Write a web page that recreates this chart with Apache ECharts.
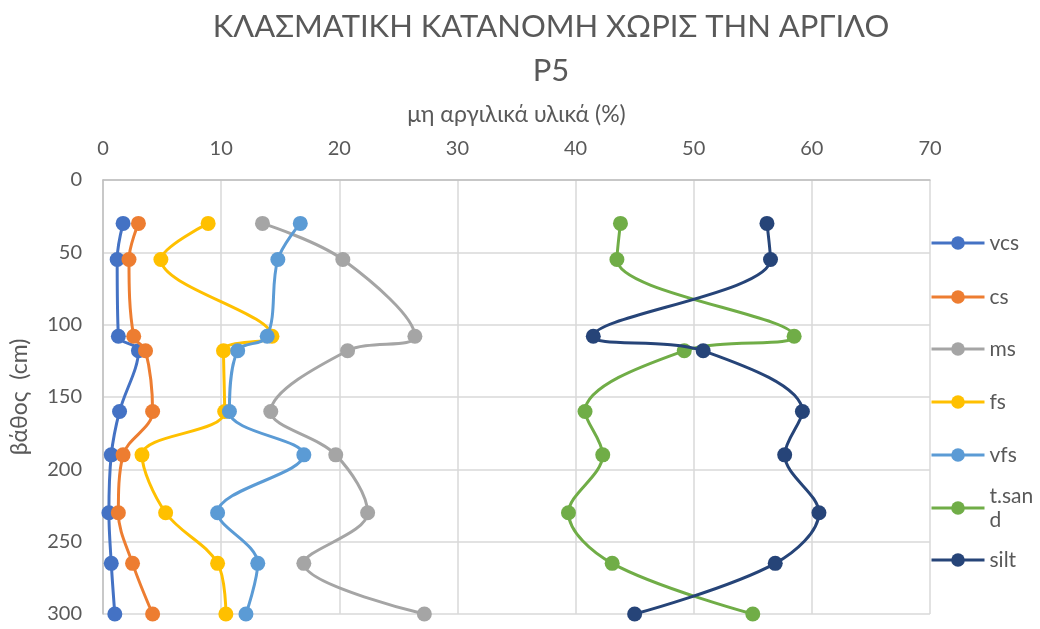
<!DOCTYPE html>
<html>
<head>
<meta charset="utf-8">
<script src="https://cdn.jsdelivr.net/npm/echarts@6/dist/echarts.min.js"></script>
<style>
  html, body { margin: 0; padding: 0; background: #ffffff; }
  #chart { width: 1040px; height: 629px; }
</style>
</head>
<body>
<div id="chart"></div>
<script>
// Sampling depths (cm)
const depths = [30, 55, 108, 118, 160, 190, 230, 265, 300];

// Non-clay fractions (%) per depth
const vcs   = [1.7, 1.2, 1.3, 3.0, 1.4, 0.7, 0.5, 0.7, 1.0];
const cs    = [3.0, 2.2, 2.6, 3.6, 4.2, 1.7, 1.3, 2.5, 4.2];
const ms    = [13.5, 20.3, 26.4, 20.7, 14.2, 19.7, 22.4, 17.0, 27.2];
const fs    = [8.9, 4.9, 14.3, 10.2, 10.3, 3.3, 5.3, 9.7, 10.4];
const vfs   = [16.7, 14.8, 13.9, 11.4, 10.7, 17.0, 9.7, 13.1, 12.1];
const tsand = [43.8, 43.5, 58.5, 49.2, 40.8, 42.3, 39.4, 43.1, 55.0];
const silt  = [56.2, 56.5, 41.5, 50.8, 59.2, 57.7, 60.6, 56.9, 45.0];

const seriesNames = ['vcs', 'cs', 'ms', 'fs', 'vfs', 't.sand', 'silt'];
const seriesValues = [vcs, cs, ms, fs, vfs, tsand, silt];
const seriesColors = ['#4472C4', '#ED7D31', '#A5A5A5', '#FFC000', '#5B9BD5', '#70AD47', '#264478'];

const xTicks = { min: 0, max: 70, interval: 10 };
const yTicks = { min: 0, max: 300, interval: 50 };

const FONT = 'Lato, "Open Sans", "Noto Sans", sans-serif';
const TEXT = '#595959';

const series = seriesNames.map((name, i) => ({
  name: name,
  type: 'line',
  smooth: 0.35,
  symbol: 'circle',
  symbolSize: 15,
  color: seriesColors[i],
  lineStyle: { width: 3, color: seriesColors[i] },
  itemStyle: { color: seriesColors[i] },
  data: seriesValues[i].map((v, k) => [v, depths[k]]),
  z: 2 + i
}));

// One legend block per entry, stacked down the right side
const legendCenters = [243, 297, 349, 402, 455, 508, 560];
const legends = seriesNames.map((name, i) => {
  const isWrapped = name === 't.sand';
  return {
    left: 930,
    top: isWrapped ? legendCenters[i] - 36 : legendCenters[i] - 12,
    padding: 0,
    itemWidth: 53,
    itemHeight: 17,
    selectedMode: false,
    lineStyle: { width: 3 },
    textStyle: {
      fontFamily: FONT, fontSize: 21, color: TEXT, lineHeight: 24,
      padding: isWrapped ? [24, 0, 0, 0] : 0
    },
    formatter: isWrapped ? 't.san\nd' : '{name}',
    data: [{ name: name }]
  };
});

const chart = echarts.init(document.getElementById('chart'), null, { renderer: 'canvas' });
chart.setOption({
  animation: false,
  backgroundColor: '#ffffff',
  title: {
    text: 'ΚΛΑΣΜΑΤΙΚΗ ΚΑΤΑΝΟΜΗ ΧΩΡΙΣ ΤΗΝ ΑΡΓΙΛΟ\nP5',
    left: 546,
    top: 0,
    textAlign: 'center',
    textStyle: { fontFamily: FONT, fontSize: 31, fontWeight: 'normal', color: TEXT, lineHeight: 44 }
  },
  legend: legends,
  grid: { left: 102, top: 180, width: 828, height: 434, containLabel: false },
  xAxis: {
    type: 'value',
    position: 'top',
    min: xTicks.min, max: xTicks.max, interval: xTicks.interval,
    name: 'μη αργιλικά υλικά (%)',
    nameLocation: 'middle',
    nameGap: 54,
    nameTextStyle: { fontFamily: FONT, fontSize: 23, color: TEXT },
    axisLine: { show: true, lineStyle: { color: '#bfbfbf', width: 1.5 } },
    axisTick: { show: false },
    axisLabel: { fontFamily: FONT, fontSize: 20, color: TEXT, margin: 21 },
    splitLine: { show: true, lineStyle: { color: '#d9d9d9', width: 1.5 } }
  },
  yAxis: {
    type: 'value',
    inverse: true,
    min: yTicks.min, max: yTicks.max, interval: yTicks.interval,
    name: 'βάθος  (cm)',
    nameLocation: 'middle',
    nameRotate: 90,
    nameGap: 72,
    nameTextStyle: { fontFamily: FONT, fontSize: 23, color: TEXT },
    axisLine: { show: true, lineStyle: { color: '#bfbfbf', width: 1.5 } },
    axisTick: { show: false },
    axisLabel: { fontFamily: FONT, fontSize: 20, color: TEXT, margin: 21 },
    splitLine: { show: true, lineStyle: { color: '#d9d9d9', width: 1.5 } }
  },
  series: series
});
</script>
</body>
</html>
